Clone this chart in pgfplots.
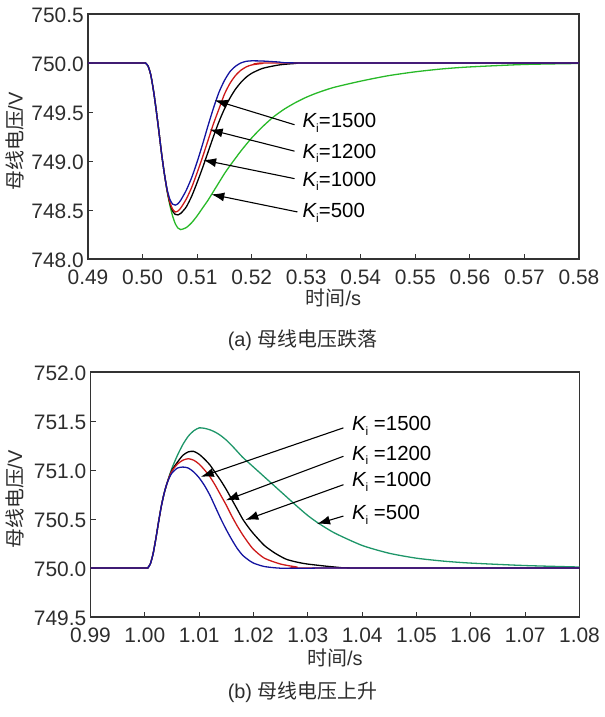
\documentclass[border=0pt]{standalone}
\usepackage{fontspec}
\setmainfont{Liberation Sans}
\newfontfamily\cjk{Noto Sans CJK SC}
\usepackage{pgfplots}
\pgfplotsset{compat=1.18}
\usetikzlibrary{arrows.meta}
\definecolor{cblue}{RGB}{20,20,160}
\definecolor{cred}{RGB}{205,25,25}
\definecolor{cgreenA}{RGB}{40,185,40}
\definecolor{cgreenB}{RGB}{30,150,105}
\definecolor{txt}{RGB}{45,45,45}
\newcommand{\Ki}{{\itshape K}\raisebox{-0.22em}{\fontsize{12}{12}\selectfont i}}
\begin{document}
\begin{tikzpicture}
\path[use as bounding box] (0,0) rectangle (605bp,717bp);
\pgfplotsset{
  common/.style={
    scale only axis, anchor=south west,
    width=491bp, height=245bp,
    axis line style={draw=black!80, line width=1.1bp},
    tick pos=left, tick align=inside,
    major tick length=5bp,
    tick style={black!80, line width=0.9bp},
    every tick label/.append style={font=\fontsize{21}{24}\selectfont, text=txt},
    /pgf/number format/assume math mode=true,
    yticklabel style={inner sep=1bp, xshift=-3bp, yshift=-1bp, /pgf/number format/.cd, fixed, fixed zerofill, precision=1},
    xticklabel style={inner sep=1bp, yshift=-10bp, /pgf/number format/.cd, fixed, fixed zerofill, precision=2},
    every axis plot/.append style={line width=1.3bp, smooth, tension=0.4},
    clip=false, clip mode=individual,
  }
}
% ---------------- top axis ----------------
\begin{axis}[common, at={(88bp,458bp)},
  xmin=0.49, xmax=0.58, ymin=748, ymax=750.5,
  xtick={0.49,0.50,...,0.585}, ytick={748,748.5,...,750.6},
  ]
\addplot[cgreenA] coordinates {
(0.49,750) (0.5,750) (0.5005,750) (0.501,749.97) (0.5015,749.88) (0.502,749.72) (0.5025,749.52) (0.503,749.30) (0.5035,749.07) (0.504,748.87)
(0.5045,748.69) (0.505,748.55) (0.5055,748.44) (0.506,748.36) (0.5065,748.315) (0.507,748.30) (0.508,748.32) (0.509,748.37) (0.510,748.44) (0.511,748.52)
(0.512,748.60) (0.513,748.69) (0.514,748.78) (0.515,748.87) (0.516,748.95) (0.518,749.10) (0.520,749.235) (0.522,749.35) (0.524,749.45) (0.526,749.53)
(0.528,749.595) (0.530,749.65) (0.532,749.695) (0.535,749.75) (0.54,749.815) (0.545,749.87) (0.55,749.91) (0.555,749.94) (0.56,749.96) (0.57,749.985) (0.58,749.995)};
\addplot[black] coordinates {
(0.49,750) (0.5,750) (0.5005,750) (0.501,749.97) (0.5015,749.88) (0.502,749.72) (0.5025,749.52) (0.503,749.30) (0.5035,749.07) (0.504,748.87)
(0.5045,748.70) (0.505,748.57) (0.5055,748.49) (0.506,748.455) (0.5065,748.45) (0.507,748.465) (0.508,748.53) (0.509,748.64) (0.510,748.78) (0.511,748.93)
(0.512,749.09) (0.513,749.25) (0.514,749.40) (0.515,749.53) (0.516,749.64) (0.517,749.73) (0.518,749.80) (0.519,749.855) (0.520,749.895) (0.522,749.945)
(0.525,749.98) (0.528,749.995) (0.531,750.0) (0.58,750.0)};
\addplot[cred] coordinates {
(0.49,750) (0.5,750) (0.5005,750) (0.501,749.97) (0.5015,749.88) (0.502,749.72) (0.5025,749.52) (0.503,749.30) (0.5035,749.07) (0.504,748.87)
(0.5045,748.70) (0.505,748.58) (0.5055,748.51) (0.506,748.48) (0.5065,748.49) (0.507,748.52) (0.508,748.61) (0.509,748.73) (0.510,748.88) (0.511,749.04)
(0.512,749.21) (0.513,749.38) (0.514,749.53) (0.515,749.68) (0.516,749.79) (0.517,749.87) (0.518,749.925) (0.519,749.96) (0.520,749.98) (0.522,749.995)
(0.525,750.0) (0.58,750.0)};
\addplot[cblue] coordinates {
(0.49,750) (0.5,750) (0.5005,750) (0.501,749.97) (0.5015,749.88) (0.502,749.72) (0.5025,749.52) (0.503,749.30) (0.5035,749.07) (0.504,748.87)
(0.5045,748.71) (0.505,748.61) (0.5055,748.56) (0.506,748.55) (0.5065,748.565) (0.507,748.60) (0.508,748.70) (0.509,748.83) (0.510,748.99) (0.511,749.17)
(0.512,749.36) (0.513,749.54) (0.514,749.70) (0.515,749.82) (0.516,749.91) (0.517,749.965) (0.518,750.0) (0.519,750.017) (0.520,750.022) (0.522,750.02)
(0.525,750.01) (0.53,750.0) (0.58,750.0)};
\begin{scope}[line width=1.1bp, -{Latex[length=13bp,width=9bp]}]
\draw (axis cs:0.52786,749.37) -- (axis cs:0.5132,749.62);
\draw (axis cs:0.52786,749.10) -- (axis cs:0.5123,749.32);
\draw (axis cs:0.52786,748.82) -- (axis cs:0.5111,749.01);
\draw (axis cs:0.5284,748.48) -- (axis cs:0.5126,748.66);
\end{scope}
\begin{scope}[every node/.style={anchor=west, inner sep=0pt, font=\fontsize{20.5}{24}\selectfont}]
\node at (axis cs:0.5293,749.39) {\Ki=1500};
\node at (axis cs:0.5293,749.08) {\Ki=1200};
\node at (axis cs:0.5293,748.79) {\Ki=1000};
\node at (axis cs:0.5293,748.47) {\Ki=500};
\end{scope}
\node[font=\fontsize{20}{24}\selectfont, text=txt] at ([yshift=-39bp]axis description cs:0.5,0) {{\cjk 时间}/s};
\node[font=\fontsize{20}{24}\selectfont, text=txt, rotate=90] at ([xshift=-73bp,yshift=-5bp]axis description cs:0,0.5) {{\cjk 母线电压}/V};
\end{axis}
% ---------------- bottom axis ----------------
\begin{axis}[common, at={(90.5bp,100bp)}, width=489bp,
  xmin=0.99, xmax=1.08, ymin=749.5, ymax=752,
  xtick={0.99,1.00,...,1.085}, ytick={749.5,750,...,752.1},
  ]
\addplot[cgreenB] coordinates {
(0.99,750) (1.0,750) (1.0005,750) (1.001,750.04) (1.0015,750.14) (1.002,750.29) (1.0025,750.46) (1.003,750.62) (1.0035,750.75) (1.004,750.85)
(1.0045,750.94) (1.005,751.02) (1.006,751.15) (1.007,751.26) (1.008,751.345) (1.009,751.40) (1.010,751.43) (1.011,751.425) (1.012,751.41) (1.013,751.385)
(1.014,751.35) (1.015,751.305) (1.016,751.25) (1.017,751.19) (1.018,751.13) (1.019,751.08) (1.020,751.03) (1.022,750.93) (1.024,750.83) (1.026,750.73)
(1.028,750.63) (1.030,750.535) (1.032,750.455) (1.035,750.355) (1.04,750.23) (1.045,750.15) (1.05,750.10) (1.055,750.07) (1.06,750.05) (1.07,750.025) (1.08,750.01)};
\addplot[black] coordinates {
(0.99,750) (1.0,750) (1.0005,750) (1.001,750.04) (1.0015,750.14) (1.002,750.29) (1.0025,750.46) (1.003,750.62) (1.0035,750.75) (1.004,750.85)
(1.0045,750.93) (1.005,751.0) (1.006,751.08) (1.007,751.15) (1.008,751.185) (1.009,751.19) (1.010,751.16) (1.011,751.11) (1.012,751.05) (1.013,750.97)
(1.014,750.89) (1.015,750.80) (1.016,750.70) (1.017,750.60) (1.018,750.50) (1.019,750.42) (1.020,750.35) (1.022,750.23) (1.024,750.15) (1.026,750.09)
(1.028,750.06) (1.03,750.04) (1.035,750.01) (1.04,750.0) (1.08,750.0)};
\addplot[cred] coordinates {
(0.99,750) (1.0,750) (1.0005,750) (1.001,750.04) (1.0015,750.14) (1.002,750.29) (1.0025,750.46) (1.003,750.62) (1.0035,750.75) (1.004,750.85)
(1.0045,750.93) (1.005,750.99) (1.006,751.06) (1.007,751.10) (1.008,751.115) (1.009,751.10) (1.010,751.06) (1.011,751.0) (1.012,750.93) (1.013,750.84)
(1.014,750.74) (1.015,750.64) (1.016,750.53) (1.017,750.43) (1.018,750.34) (1.019,750.26) (1.020,750.19) (1.022,750.10) (1.025,750.04) (1.028,750.01)
(1.03,750.0) (1.08,750.0)};
\addplot[cblue] coordinates {
(0.99,750) (1.0,750) (1.0005,750) (1.001,750.04) (1.0015,750.14) (1.002,750.29) (1.0025,750.46) (1.003,750.62) (1.0035,750.75) (1.004,750.85)
(1.0045,750.92) (1.005,750.97) (1.006,751.02) (1.007,751.03) (1.008,751.02) (1.009,750.98) (1.010,750.92) (1.011,750.84) (1.012,750.74) (1.013,750.62)
(1.014,750.50) (1.015,750.39) (1.016,750.29) (1.017,750.20) (1.018,750.13) (1.019,750.085) (1.020,750.05) (1.022,750.015) (1.025,749.998) (1.03,749.997)
(1.035,750.0) (1.08,750.0)};
\begin{scope}[line width=1.1bp, -{Latex[length=13bp,width=9bp]}]
\draw (axis cs:1.03655,751.43) -- (axis cs:1.0103,750.93);
\draw (axis cs:1.03655,751.14) -- (axis cs:1.0149,750.69);
\draw (axis cs:1.03655,750.85) -- (axis cs:1.0185,750.49);
\draw (axis cs:1.03655,750.53) -- (axis cs:1.0317,750.45);
\end{scope}
\begin{scope}[every node/.style={anchor=west, inner sep=0pt, font=\fontsize{20.5}{24}\selectfont}]
\node at (axis cs:1.0381,751.45) {\Ki\ =1500};
\node at (axis cs:1.0381,751.15) {\Ki\ =1200};
\node at (axis cs:1.0381,750.88) {\Ki\ =1000};
\node at (axis cs:1.0381,750.54) {\Ki\ =500};
\end{scope}
\node[font=\fontsize{20}{24}\selectfont, text=txt] at ([yshift=-41bp]axis description cs:0.5,0) {{\cjk 时间}/s};
\node[font=\fontsize{20}{24}\selectfont, text=txt, rotate=90] at ([xshift=-76bp,yshift=-5bp]axis description cs:0,0.5) {{\cjk 母线电压}/V};
\end{axis}
\node[font=\fontsize{20}{24}\selectfont, text=txt] at (302.5bp,377bp) {(a) {\cjk 母线电压跌落}};
\node[font=\fontsize{20}{24}\selectfont, text=txt] at (302.5bp,25bp) {(b) {\cjk 母线电压上升}};
\end{tikzpicture}
\end{document}
